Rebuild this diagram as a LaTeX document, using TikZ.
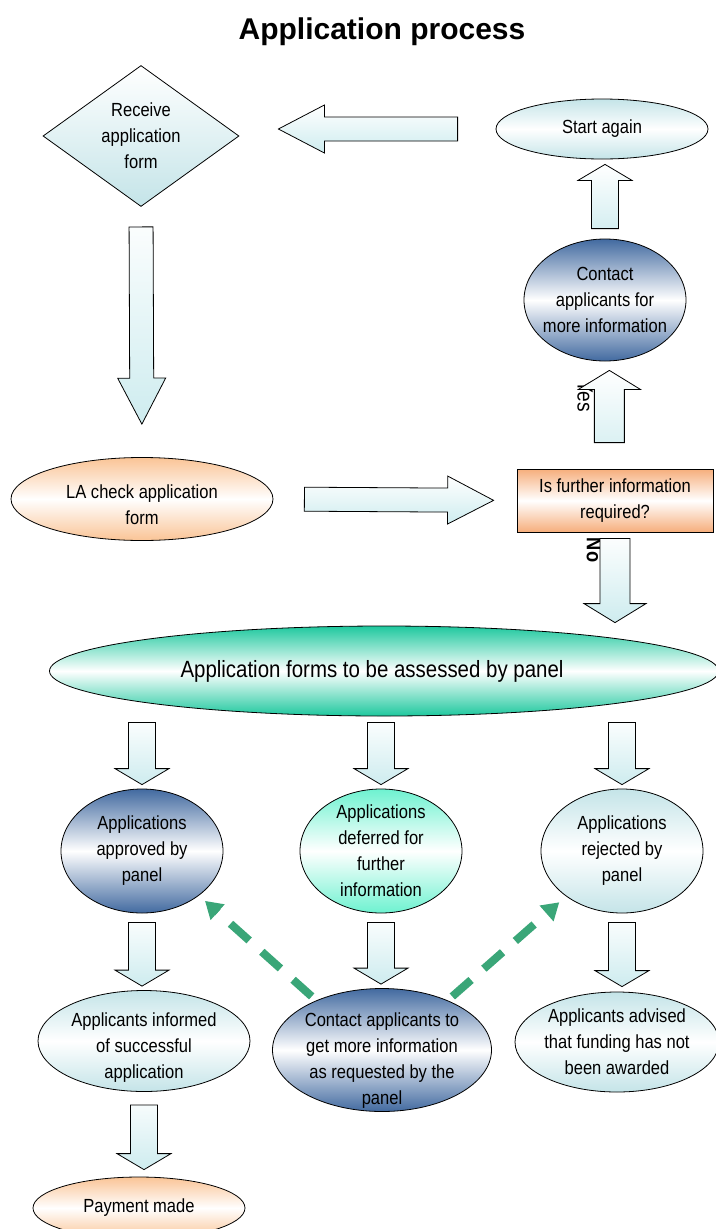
\documentclass[tikz,border=0pt]{standalone}
\usepackage{fontspec}
\setmainfont{Liberation Sans}[FakeStretch=0.87]
\newfontfamily\titlefont{Liberation Sans}
\usetikzlibrary{shapes.geometric, arrows.meta, calc}

\definecolor{palecyan}{RGB}{196,228,232}
\definecolor{arrowcyan}{RGB}{206,236,239}
\definecolor{navy}{RGB}{66,106,160}
\definecolor{mint}{RGB}{110,242,208}
\definecolor{peach}{RGB}{250,196,150}
\definecolor{darkpeach}{RGB}{246,174,124}
\definecolor{panelgreen}{RGB}{30,200,158}
\definecolor{dashgreen}{RGB}{58,166,120}

\begin{document}
\begin{tikzpicture}[x=1pt, y=-1pt, >=Stealth]
            \tikzset{box/.style = {draw, line width=0.8pt, inner sep=-20pt, align=center, font=\fontsize{19}{26}\selectfont}}
            \tikzset{cyanfill/.style = {top color=palecyan, bottom color=palecyan, middle color=white}}
            \tikzset{navyfill/.style = {top color=navy, bottom color=navy, middle color=white}}
            \tikzset{mintfill/.style = {top color=mint, bottom color=mint, middle color=white}}
            \tikzset{peachfill/.style = {top color=peach, bottom color=peach, middle color=white}}
            \tikzset{rectfill/.style = {top color=darkpeach, bottom color=darkpeach, middle color=white}}
            \tikzset{greenfill/.style = {top color=panelgreen, bottom color=panelgreen, middle color=white}}
            \tikzset{fat/.style n args = {5}{draw, line width=0.8pt, top color=white, bottom color=arrowcyan,
                to path={let \p1=($(\tikztostart)!#1!(\tikztotarget)$), \p2=($(\tikztotarget)!#2!(\tikztostart)$) in
                    ($(\p1)!#3!90:(\p2)$) -- ($(\p2)!#5!(\p1)!#3!-90:(\p1)$) -- ($(\p2)!#5!(\p1)!#4!-90:(\p1)$) -- (\p2)
                    -- ($(\p2)!#5!(\p1)!#4!90:(\p1)$) -- ($(\p2)!#5!(\p1)!#3!90:(\p1)$) -- ($(\p1)!#3!-90:(\p2)$) -- cycle}}}
            \tikzset{shortfat/.style 2 args = {fat={#1}{#2}{13.5pt}{27pt}{16pt}}}
            \tikzset{midfat/.style 2 args = {fat={#1}{#2}{15pt}{31pt}{19pt}}}
            \tikzset{longfat/.style 2 args = {fat={#1}{#2}{12pt}{24pt}{46pt}}}
            \tikzset{askarrow/.style = {draw=dashgreen, line width=8pt, dash pattern=on 25pt off 17pt, -{Triangle[length=17pt, width=20pt]}}}

            \useasboundingbox (0,0) rectangle (715,1229);

            \node[font=\titlefont\bfseries\fontsize{30}{30}\selectfont] (title) at (382,32) {Application process};

            \node[box, diamond, top color=white, bottom color=palecyan, minimum width=196pt, minimum height=141pt] (receive) at (141,136) {Receive\\application\\form};
            \node[box, ellipse, cyanfill, minimum width=212pt, minimum height=60pt] (start) at (602,129) {Start again};
            \node[box, ellipse, navyfill, minimum width=162pt, minimum height=122pt] (contact) at (605,300) {Contact\\applicants for\\more information};

            \node[box, ellipse, peachfill, minimum width=262pt, minimum height=83pt] (lacheck) at (142,499) {\rule{0pt}{26pt}LA check application\\form};
            \node[box, rectangle, rectfill, minimum width=196pt, minimum height=63pt] (question) at (615,500.5) {Is further information\\required?};

            \node[box, ellipse, greenfill, minimum width=669pt, minimum height=90pt, font=\fontsize{23.5}{28}\selectfont] (panel) at (384,671) {Application forms to be assessed by panel\hspace*{24pt}};

            \node[box, ellipse, navyfill, minimum width=162pt, minimum height=124pt] (approved) at (142,851) {Applications\\approved by\\panel};
            \node[box, ellipse, mintfill, minimum width=162pt, minimum height=124pt] (deferred) at (381,851) {Applications\\deferred for\\further\\information};
            \node[box, ellipse, cyanfill, minimum width=162pt, minimum height=124pt] (rejected) at (622,851) {Applications\\rejected by\\panel};

            \node[box, ellipse, cyanfill, minimum width=212pt, minimum height=101pt] (informed) at (144,1041) {\rule{0pt}{26pt}Applicants informed\\of successful\\application};
            \node[box, ellipse, navyfill, minimum width=219pt, minimum height=123pt] (cpanel) at (382,1050) {\rule{0pt}{34pt}Contact applicants to\\get more information\\as requested by the\\panel};
            \node[box, ellipse, cyanfill, minimum width=204pt, minimum height=100pt] (advised) at (617,1042) {Applicants advised\\that funding has not\\been awarded};

            \node[box, ellipse, peachfill, minimum width=212pt, minimum height=62pt] (payment) at (139,1208) {Payment made};

            \node[rotate=-90, font=\fontsize{22}{22}\selectfont] (yes) at (585,396) {Yes};
            \node[rotate=-90, font=\fontsize{21}{21}\selectfont\bfseries] (no) at (594,550) {No};

            \draw[longfat={20pt}{33pt}] (receive.south) to (lacheck.north);
            \draw[longfat={38pt}{39pt}] (start.west) to (receive.east |- start.west);
            \draw[longfat={31pt}{23pt}] (lacheck.east) to (question.west);
            \draw[shortfat={10pt}{5pt}] (contact.north) to (contact.north |- start.south);
            \draw[midfat={26pt}{9pt}] (question.100) to (question.100 |- contact.south);
            \draw[midfat={6pt}{3pt}] (question.south) to (question.south |- panel.north);

            \draw[shortfat={6pt}{4pt}] (panel.south -| approved.north) to (approved.north);
            \draw[shortfat={6pt}{4pt}] (panel.south -| deferred.north) to (deferred.north);
            \draw[shortfat={6pt}{4pt}] (panel.south -| rejected.north) to (rejected.north);

            \draw[shortfat={9pt}{4pt}] (approved.south) to (approved.south |- informed.north);
            \draw[shortfat={9pt}{4pt}] (deferred.south) to (deferred.south |- cpanel.north);
            \draw[shortfat={9pt}{5pt}] (rejected.south) to (rejected.south |- advised.north);
            \draw[shortfat={13pt}{7pt}] (informed.south) to (informed.south |- payment.north);

            \draw[askarrow, shorten <=6pt, shorten >=8pt] (cpanel.143) -- (approved.-38);
            \draw[askarrow, shorten <=6pt, shorten >=9pt] (cpanel.37) -- (rejected.219);
        \end{tikzpicture}
\end{document}
